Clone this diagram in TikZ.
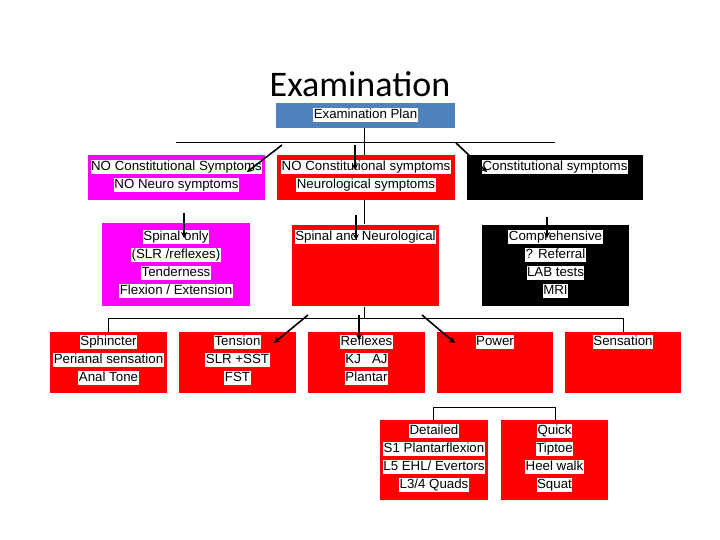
\documentclass[tikz,border=0pt]{standalone}
\usepackage{fontspec}
\setmainfont{Liberation Sans}
\newfontfamily\titlefont{Carlito}
\usetikzlibrary{arrows.meta}
\definecolor{plan}{RGB}{79,129,189}
\definecolor{mag}{RGB}{255,0,255}
\newcommand{\hl}[1]{{\setlength{\fboxsep}{0.5pt}\colorbox{white}{\rule[-2.8pt]{0pt}{12.6pt}#1}}}
\tikzset{
 bx/.style={draw=none,rectangle,inner sep=0},
 tx/.style={anchor=north,align=center,font=\fontsize{13.3}{18}\selectfont,inner sep=0},
 ln/.style={line width=0.7pt},
 ar/.style={line width=1.6pt,-{Stealth[length=6pt,width=6pt]}}
}
\newcommand{\bxx}[6]{% name, x1,y1,x2,y2,color
 \path[fill=#6] (#2,#3) rectangle (#4,#5);
 \coordinate (#1) at ({(#2+#4)/2},#3);}
\begin{document}
\begin{tikzpicture}[x=1pt,y=-1pt]
\useasboundingbox (0,0) rectangle (720,540);
\node[font=\titlefont\fontsize{36}{40}\selectfont,inner sep=0] (title) at (360,84) {Examination};
% connecting lines
\coordinate (c0) at (364,128); \coordinate (c1) at (364,224);
\draw[ln] (c0) -- (c1);
\coordinate (h1a) at (176,142); \coordinate (h1b) at (555,142);
\draw[ln] (h1a) -- (h1b);
\coordinate (c2) at (364,307); \coordinate (c3) at (364,318);
\draw[ln] (c2) -- (c3);
\coordinate (h2a) at (108,318); \coordinate (h2b) at (623,318);
\coordinate (h2c) at (108,332); \coordinate (h2d) at (623,332);
\draw[ln] (h2c) -- (h2a) -- (h2b) -- (h2d);
\coordinate (h3a) at (433,420); \coordinate (h3b) at (433,407);
\coordinate (h3c) at (555,407); \coordinate (h3d) at (555,420);
\draw[ln] (h3a) -- (h3b) -- (h3c) -- (h3d);
% boxes
\bxx{plan}{276}{103}{455}{128}{plan}
\node[tx] (tplan) at ([yshift=-5]plan) {\hl{Examination Plan}};
\bxx{a1}{88}{155}{265}{200}{mag}
\node[tx] (ta1) at ([yshift=-5]a1) {\hl{NO Constitutional Symptoms}\\\hl{NO Neuro symptoms}};
\bxx{b1}{277}{155}{455}{200}{red}
\node[tx] (tb1) at ([yshift=-5]b1) {\hl{NO Constitutional symptoms}\\\hl{Neurological symptoms}};
\bxx{c1b}{467}{155}{643}{200}{black}
\node[tx] (tc1) at ([yshift=-5]c1b) {\hl{Constitutional symptoms}};
\bxx{a2}{102}{223}{250}{306}{mag}
\node[tx] (ta2) at ([yshift=-7]a2) {\hl{Spinal only}\\\hl{(SLR /reflexes)}\\\hl{Tenderness}\\\hl{Flexion / Extension}};
\bxx{b2}{292}{225}{439}{306}{red}
\node[tx] (tb2) at ([yshift=-5]b2) {\hl{Spinal and Neurological}};
\bxx{c2b}{482}{225}{629}{306}{black}
\node[tx] (tc2) at ([yshift=-5]c2b) {\hl{Comprehensive}\\\hl{? Referral}\\\hl{LAB tests}\\\hl{MRI}};
\bxx{r1}{50}{332}{167}{393}{red}
\node[tx] (tr1) at ([yshift=-3]r1) {\hl{Sphincter}\\\hl{Perianal sensation}\\\hl{Anal Tone}};
\bxx{r2}{179}{332}{296}{393}{red}
\node[tx] (tr2) at ([yshift=-3]r2) {\hl{Tension}\\\hl{SLR +SST}\\\hl{FST}};
\bxx{r3}{308}{332}{425}{393}{red}
\node[tx] (tr3) at ([yshift=-3]r3) {\hl{Reflexes}\\\hl{KJ\ \ \ AJ}\\\hl{Plantar}};
\bxx{r4}{437}{332}{553}{393}{red}
\node[tx] (tr4) at ([yshift=-3]r4) {\hl{Power}};
\bxx{r5}{565}{332}{681}{393}{red}
\node[tx] (tr5) at ([yshift=-3]r5) {\hl{Sensation}};
\bxx{d1}{380}{420}{488}{500}{red}
\node[tx] (td1) at ([yshift=-4]d1) {\hl{Detailed}\\\hl{S1 Plantarflexion}\\\hl{L5 EHL/ Evertors}\\\hl{L3/4 Quads}};
\bxx{d2}{501}{420}{608}{500}{red}
\node[tx] (td2) at ([yshift=-4]d2) {\hl{Quick}\\\hl{Tiptoe}\\\hl{Heel walk}\\\hl{Squat}};
% arrows
\coordinate (p1) at (282,145); \coordinate (q1) at (247,172);
\coordinate (p2) at (355,145); \coordinate (q2) at (355,170);
\coordinate (p3) at (456,143); \coordinate (q3) at (487,172);
\draw[ar] (p1) -- (q1); \draw[ar] (p2) -- (q2); \draw[ar] (p3) -- (q3);
\coordinate (p4) at (184,213); \coordinate (q4) at (184,238);
\coordinate (p5) at (356,215); \coordinate (q5) at (356,240);
\coordinate (p6) at (547,217); \coordinate (q6) at (547,238);
\draw[ar] (p4) -- (q4); \draw[ar] (p5) -- (q5); \draw[ar] (p6) -- (q6);
\coordinate (p7) at (308,315); \coordinate (q7) at (274,343);
\coordinate (p8) at (359,315); \coordinate (q8) at (359,340);
\coordinate (p9) at (422,315); \coordinate (q9) at (455,343);
\draw[ar] (p7) -- (q7); \draw[ar] (p8) -- (q8); \draw[ar] (p9) -- (q9);
\end{tikzpicture}
\end{document}
